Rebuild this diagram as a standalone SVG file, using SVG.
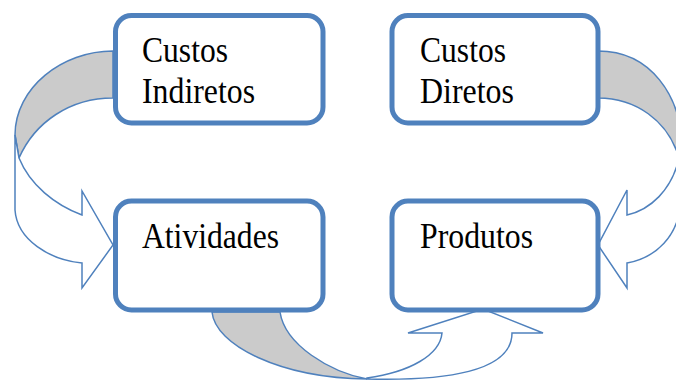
<svg xmlns="http://www.w3.org/2000/svg" width="676" height="381" viewBox="0 0 676 381">
<style>
.arr{stroke:#4F81BD;stroke-width:1.5;stroke-linejoin:miter}
.back{fill:#CBCBCB}
.front{fill:#FFFFFF}
.box{fill:#FFFFFF;stroke:#4F81BD;stroke-width:5}
.lbl{font-family:"Liberation Serif","Times New Roman",serif;font-size:36px;fill:#000000}
</style>
<rect width="676" height="381" fill="#FFFFFF"/>
<g id="connectors">
  <g id="arrow-left">
    <path class="arr back" d="M113,51 C62,51 15,88 15,135 L19,158 C35,122 70,98 113,98 Z"/>
    <path class="arr front" d="M15,135 L15,210 C17,240 50,260 82,263 L82,288 L113,245 L82,191 L82,215 C55,205 30,185 19,158 Z"/>
  </g>
  <g id="arrow-right">
    <path class="arr back" d="M598,51 C650,51 682,95 682,150 L679,158 C668,120 635,98 598,98 Z"/>
    <path class="arr front" d="M682,150 L681,200 C679,237 655,258 627,263 L627,288 L598,245 L627,190 L627,215 C650,210 672,190 679,158 Z"/>
  </g>
  <g id="arrow-bottom">
    <path class="arr back" d="M212,312 C215,345 280,378 367,379 C330,372 285,345 280,312 Z"/>
    <path class="arr front" d="M367,379 C445,381 512,372 512,333 L543,333 L483,309 L408,333 L442,333 C440,355 410,372 367,378 Z"/>
  </g>
</g>
<g id="node-custos-indiretos">
  <rect class="box" x="115.5" y="15.5" width="207.5" height="107.5" rx="16"/>
  <text class="lbl" x="142" y="62" textLength="86" lengthAdjust="spacingAndGlyphs">Custos</text>
  <text class="lbl" x="142" y="103" textLength="113" lengthAdjust="spacingAndGlyphs">Indiretos</text>
</g>
<g id="node-custos-diretos">
  <rect class="box" x="392" y="15.5" width="206" height="107.5" rx="16"/>
  <text class="lbl" x="420" y="62" textLength="86" lengthAdjust="spacingAndGlyphs">Custos</text>
  <text class="lbl" x="420" y="103" textLength="94" lengthAdjust="spacingAndGlyphs">Diretos</text>
</g>
<g id="node-atividades">
  <rect class="box" x="115.5" y="201" width="207.5" height="109" rx="16"/>
  <text class="lbl" x="142" y="248" textLength="137" lengthAdjust="spacingAndGlyphs">Atividades</text>
</g>
<g id="node-produtos">
  <rect class="box" x="392" y="201" width="206" height="109" rx="16"/>
  <text class="lbl" x="420" y="248" textLength="113" lengthAdjust="spacingAndGlyphs">Produtos</text>
</g>
</svg>
